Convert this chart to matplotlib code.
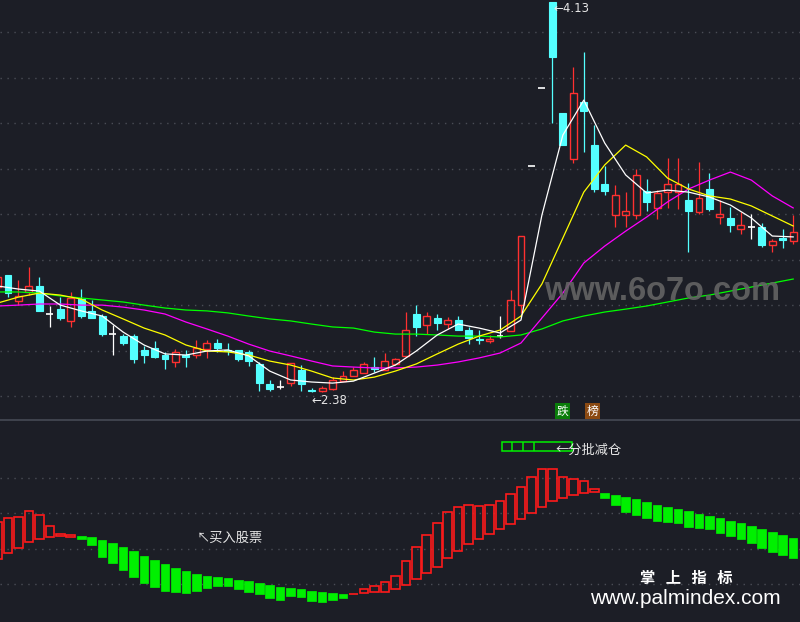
import matplotlib
matplotlib.use("Agg")
import matplotlib.pyplot as plt
from matplotlib.patches import Rectangle
from matplotlib.lines import Line2D
import numpy as np

# daily candles (price), one per session
opens = [2.851, 2.905, 2.788, 2.829, 2.856, 2.730, 2.752, 2.699, 2.797, 2.744,
         2.721, 2.640, 2.631, 2.631, 2.569, 2.578, 2.546, 2.515, 2.546, 2.546,
         2.573, 2.600, 2.569, 2.569, 2.560, 2.506, 2.416, 2.402, 2.420, 2.479,
         2.389, 2.383, 2.393, 2.429, 2.452, 2.465, 2.492, 2.479, 2.506, 2.542,
         2.730, 2.681, 2.712, 2.685, 2.703, 2.658, 2.618, 2.609, 2.631, 2.654,
         2.770, 3.394, 3.744, 4.130, 3.632, 3.426, 3.681, 3.488, 3.313, 3.174,
         3.174, 3.174, 3.282, 3.206, 3.277, 3.277, 3.242, 3.188, 3.291, 3.165,
         3.161, 3.111, 3.120, 3.120, 3.040, 3.071, 3.058]
highs = [2.905, 2.905, 2.883, 2.941, 2.896, 2.766, 2.806, 2.829, 2.842, 2.793,
         2.730, 2.681, 2.640, 2.640, 2.587, 2.609, 2.560, 2.573, 2.569, 2.613,
         2.613, 2.618, 2.600, 2.569, 2.569, 2.515, 2.434, 2.434, 2.510, 2.501,
         2.398, 2.407, 2.447, 2.474, 2.492, 2.515, 2.537, 2.555, 2.533, 2.739,
         2.770, 2.739, 2.730, 2.717, 2.721, 2.672, 2.658, 2.636, 2.721, 2.838,
         3.080, 3.394, 3.744, 4.130, 3.632, 3.838, 3.906, 3.578, 3.394, 3.309,
         3.277, 3.381, 3.336, 3.286, 3.430, 3.430, 3.318, 3.412, 3.363, 3.242,
         3.210, 3.188, 3.179, 3.138, 3.067, 3.111, 3.174]
lows = [2.842, 2.806, 2.770, 2.815, 2.744, 2.672, 2.703, 2.672, 2.712, 2.712,
        2.631, 2.546, 2.591, 2.510, 2.510, 2.533, 2.483, 2.492, 2.492, 2.533,
        2.533, 2.560, 2.546, 2.519, 2.497, 2.385, 2.385, 2.393, 2.407, 2.385,
        2.380, 2.381, 2.389, 2.429, 2.452, 2.465, 2.470, 2.479, 2.501, 2.542,
        2.631, 2.640, 2.658, 2.663, 2.658, 2.595, 2.595, 2.600, 2.622, 2.654,
        2.735, 3.394, 3.744, 3.587, 3.488, 3.408, 3.457, 3.277, 3.264, 3.120,
        3.120, 3.156, 3.192, 3.156, 3.206, 3.201, 3.008, 3.179, 3.192, 3.134,
        3.098, 3.089, 3.067, 3.031, 3.008, 3.026, 3.044]
closes = [2.896, 2.824, 2.811, 2.856, 2.744, 2.730, 2.712, 2.802, 2.721, 2.712,
          2.640, 2.640, 2.600, 2.528, 2.546, 2.537, 2.528, 2.560, 2.537, 2.578,
          2.600, 2.578, 2.564, 2.528, 2.519, 2.420, 2.393, 2.402, 2.510, 2.416,
          2.385, 2.400, 2.434, 2.452, 2.479, 2.506, 2.483, 2.519, 2.528, 2.658,
          2.672, 2.721, 2.690, 2.703, 2.658, 2.622, 2.613, 2.618, 2.631, 2.793,
          3.080, 3.394, 3.744, 3.883, 3.488, 3.722, 3.641, 3.291, 3.282, 3.264,
          3.192, 3.354, 3.233, 3.273, 3.313, 3.313, 3.192, 3.251, 3.201, 3.179,
          3.129, 3.129, 3.120, 3.040, 3.058, 3.062, 3.098]

# moving average lines, read every second session
ma_x = list(range(0, 77, 2))
ma5 = [2.856, 2.842, 2.833, 2.770, 2.744, 2.721, 2.649, 2.591, 2.551, 2.546,
       2.564, 2.569, 2.542, 2.474, 2.434, 2.425, 2.420, 2.429, 2.465, 2.501,
       2.564, 2.636, 2.685, 2.667, 2.645, 2.703, 3.174, 3.533, 3.690, 3.497,
       3.354, 3.273, 3.286, 3.277, 3.255, 3.219, 3.161, 3.080, 3.076]
ma10 = [2.779, 2.806, 2.824, 2.815, 2.797, 2.748, 2.708, 2.667, 2.636, 2.591,
        2.564, 2.560, 2.546, 2.519, 2.501, 2.474, 2.443, 2.434, 2.447, 2.474,
        2.506, 2.551, 2.595, 2.631, 2.658, 2.721, 2.865, 3.071, 3.277, 3.399,
        3.488, 3.435, 3.340, 3.291, 3.260, 3.246, 3.215, 3.170, 3.125]
ma20 = [2.766, 2.770, 2.775, 2.775, 2.770, 2.770, 2.761, 2.748, 2.730, 2.694,
        2.663, 2.631, 2.595, 2.564, 2.542, 2.519, 2.497, 2.492, 2.488, 2.488,
        2.492, 2.501, 2.515, 2.533, 2.555, 2.600, 2.712, 2.824, 2.959, 3.035,
        3.102, 3.165, 3.233, 3.291, 3.331, 3.367, 3.331, 3.260, 3.206]
ma60 = [2.829, 2.829, 2.824, 2.811, 2.802, 2.793, 2.784, 2.770, 2.757, 2.748,
        2.744, 2.735, 2.721, 2.708, 2.699, 2.685, 2.672, 2.667, 2.649, 2.640,
        2.640, 2.636, 2.631, 2.631, 2.627, 2.636, 2.663, 2.699, 2.721, 2.739,
        2.752, 2.766, 2.784, 2.802, 2.815, 2.833, 2.851, 2.869, 2.887]

# lower indicator: floating bars (top, bottom)
ind_top = [17.5, 18.6, 18.9, 20.6, 19.4, 16.3, 14.1, 13.8, 13.5, 13.2,
           12.4, 11.5, 10.4, 9.3, 7.9, 6.8, 5.6, 4.5, 3.7, 2.8,
           2.3, 2.0, 1.7, 1.1, 0.8, 0.3, -0.3, -0.8, -1.1, -1.4,
           -2.0, -2.3, -2.5, -2.8, -2.8, -1.4, -0.6, 0.6, 2.3, 6.5,
           10.4, 13.8, 17.2, 20.3, 21.7, 22.3, 22.0, 22.3, 23.4, 25.4,
           27.3, 30.1, 32.4, 32.4, 30.1, 29.6, 29.0, 26.8, 25.6, 25.1,
           24.5, 23.9, 23.1, 22.3, 21.7, 21.1, 20.6, 19.7, 19.2, 18.6,
           17.7, 17.2, 16.3, 15.5, 14.6, 13.8, 13.0]
ind_bot = [7.0, 8.7, 10.1, 11.8, 12.7, 13.2, 13.5, 13.2, 12.7, 11.0,
           7.6, 5.9, 3.9, 2.0, 0.3, -0.8, -2.0, -2.3, -2.5, -2.0,
           -1.1, -0.6, -0.6, -1.4, -2.3, -2.8, -3.9, -4.5, -3.4, -3.7,
           -4.8, -5.1, -4.5, -3.9, -2.9, -2.5, -2.3, -2.3, -1.4, -0.3,
           1.4, 3.1, 4.8, 7.3, 9.3, 11.3, 12.7, 14.1, 15.5, 16.9,
           18.3, 20.0, 21.7, 23.4, 24.2, 25.1, 25.6, 25.9, 24.2, 22.3,
           20.3, 19.4, 18.6, 17.7, 17.5, 17.2, 16.1, 15.8, 15.5, 14.4,
           13.5, 12.7, 11.5, 10.1, 9.0, 8.2, 7.3]
ind_rising = [True] * 8 + [False] * 26 + [True] * 24 + [False] * 19

bg = '#1c1e26'
red = '#ff3030'
cyan = '#54ffff'
grid_c = '#4a4d56'

fig = plt.figure(figsize=(8, 6.22), dpi=100, facecolor=bg)
ax = fig.add_axes([0, 202 / 622, 1, 420 / 622])
ax2 = fig.add_axes([0, 0, 1, 202 / 622])
for a in (ax, ax2):
    a.set_axis_off()
    a.set_xlim(0.24, 76.65)
ax.set_ylim(2.2545, 4.139)
ax2.set_ylim(-10.7, 46.2)

# dotted grid
for yp in [32, 77.5, 123, 168.5, 214, 259.5, 305, 350.5, 396]:
    f = 1 - yp / 420
    ax.plot([0, 1], [f, f], transform=ax.transAxes, color=grid_c,
            lw=1, ls=(0, (1, 4)), zorder=0)
for v in [0, 10, 20, 30]:
    ax2.axhline(v, color=grid_c, lw=1, ls=(0, (1, 4)), zorder=0)

# candles
w = 0.66
for i in range(len(opens)):
    o, h, l, c = opens[i], highs[i], lows[i], closes[i]
    if c > o:
        ax.vlines(i, c, h, color=red, lw=0.9, zorder=3)
        ax.vlines(i, l, o, color=red, lw=0.9, zorder=3)
        ax.add_patch(Rectangle((i - w / 2, o), w, c - o, fill=False,
                               ec=red, lw=1, zorder=3))
    elif c < o:
        ax.vlines(i, l, h, color=cyan, lw=0.9, zorder=3)
        ax.add_patch(Rectangle((i - w / 2, c), w, o - c, fc=cyan,
                               ec=cyan, lw=0.8, zorder=3))
    else:
        ax.vlines(i, l, h, color='white', lw=0.9, zorder=3)
        ax.hlines(o, i - w / 2, i + w / 2, color='white', lw=1.2, zorder=3)

ax.plot(ma_x, ma60, color='#00ff00', lw=0.9, zorder=4)
ax.plot(ma_x, ma20, color='#ff00ff', lw=0.9, zorder=4)
ax.plot(ma_x, ma10, color='#ffff00', lw=0.9, zorder=4)
ax.plot(ma_x, ma5, color='white', lw=0.9, zorder=4)

txt_c = '#e6e6e6'
ax.annotate('←4.13', (53, highs[53]), xytext=(1, -6), textcoords='offset pixels',
            color=txt_c, fontsize=8.5, va='center', ha='left', zorder=6)
ax.annotate('←2.38', (30, lows[30]), xytext=(0, -8), textcoords='offset pixels',
            color=txt_c, fontsize=8.5, va='center', ha='left', zorder=6)

# watermark
fig.text(662 / 800, 1 - 291 / 622, 'www.6o7o.com', color='#646464',
         fontsize=23.5, fontweight='bold', family='Liberation Sans',
         ha='center', va='center', alpha=0.9, zorder=2)

# 跌 / 榜 tags
cjk = ['Noto Sans CJK SC', 'DejaVu Sans']
fig.text(562.5 / 800, 1 - 411 / 622, '跌', color='white', fontsize=8.5, family=cjk,
         ha='center', va='center',
         bbox=dict(boxstyle='square,pad=0.1', fc='#0a7d0a', ec='none'))
fig.text(592.5 / 800, 1 - 411 / 622, '榜', color='white', fontsize=8.5, family=cjk,
         ha='center', va='center',
         bbox=dict(boxstyle='square,pad=0.1', fc='#8b4a12', ec='none'))

# separator between panels
fig.add_artist(Line2D([0, 1], [202 / 622, 202 / 622], color='#464a54', lw=1.2))

# lower indicator bars
bw = 0.82
for i in range(len(ind_top)):
    t, b = ind_top[i], ind_bot[i]
    hgt = max(t - b, 0.1)
    if ind_rising[i]:
        ax2.add_patch(Rectangle((i - bw / 2, b), bw, hgt, fill=False,
                                ec='#ff1a1a', lw=1.2, zorder=3))
    else:
        ax2.add_patch(Rectangle((i - bw / 2, b), bw, hgt, fc='#00f000',
                                ec='#00f000', lw=0.5, zorder=3))

# 分批减仓 marker
ax2.add_patch(Rectangle((48.2, 37.5), 6.7, 2.5, fill=False, ec='#00f000',
                        lw=1.1, zorder=4))
ax2.vlines([49.15, 50.2, 51.2], 37.5, 40.0, color='#00f000', lw=1.1, zorder=4)
fig.text(556 / 800, 1 - 450 / 622, '←分批减仓', color=txt_c, fontsize=9.5,
         family=cjk, ha='left', va='center', zorder=6)
fig.text(197 / 800, 1 - 538 / 622, '↖买入股票', color=txt_c, fontsize=9.5,
         family=cjk, ha='left', va='center', zorder=6)

# site marks
fig.text(686 / 800, 1 - 578 / 622, '掌   上   指   标', color='white', fontsize=11,
         family=cjk, fontweight='bold', ha='center', va='center')
fig.text(685 / 800, 1 - 598.5 / 622, 'www.palmindex.com', color='white',
         fontsize=15, family='Liberation Sans', ha='center', va='center')

fig.savefig('out.png', dpi=100, facecolor=bg)
